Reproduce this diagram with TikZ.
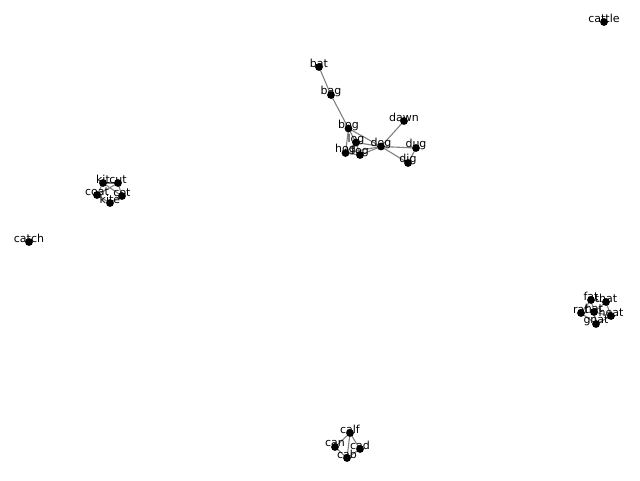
\documentclass[tikz,border=0pt]{standalone}
\usepackage{fontspec}
\setmainfont{DejaVu Sans}
\begin{document}
\begin{tikzpicture}[x=1pt,y=-1pt,
  edge/.style={draw=gray,line width=1.1pt},
  dot/.style={circle,fill=black,inner sep=0pt,minimum size=7.8pt},
  lbl/.style={inner sep=0pt,font=\fontsize{11}{12}\selectfont,text=black}]
\useasboundingbox (0,0) rectangle (640,480);
% positions
\coordinate (bat) at (319,67);
\coordinate (bag) at (331,95);
\coordinate (bog) at (348.5,128.5);
\coordinate (log) at (356,142.5);
\coordinate (hog) at (345.5,153);
\coordinate (fog) at (360,155);
\coordinate (dog) at (381,146.5);
\coordinate (dawn) at (404,121);
\coordinate (dug) at (416,148);
\coordinate (dig) at (408,163);
\coordinate (kit) at (103,183);
\coordinate (cut) at (118,183);
\coordinate (coat) at (97,195);
\coordinate (cot) at (122,196);
\coordinate (kite) at (110,203);
\coordinate (fat) at (591,300);
\coordinate (that) at (606,302);
\coordinate (rat) at (581,313);
\coordinate (hat) at (594,312);
\coordinate (heat) at (611,316);
\coordinate (gnat) at (596,324);
\coordinate (calf) at (350,433);
\coordinate (can) at (335,447);
\coordinate (cad) at (360,449);
\coordinate (cab) at (347,458);
\coordinate (cattle) at (604,22);
\coordinate (catch) at (29,242);
% edges
\draw[edge] (bat) -- (bag);
\draw[edge] (bag) -- (bog);
\draw[edge] (bog) -- (log);
\draw[edge] (bog) -- (dog);
\draw[edge] (bog) -- (hog);
\draw[edge] (log) -- (dog);
\draw[edge] (log) -- (hog);
\draw[edge] (log) -- (fog);
\draw[edge] (hog) -- (dog);
\draw[edge] (fog) -- (dog);
\draw[edge] (hog) -- (fog);
\draw[edge] (dog) -- (dawn);
\draw[edge] (dog) -- (dug);
\draw[edge] (dog) -- (dig);
\draw[edge] (dug) -- (dig);
\draw[edge] (kit) -- (cut);
\draw[edge] (kit) -- (coat);
\draw[edge] (kit) -- (cot);
\draw[edge] (cut) -- (coat);
\draw[edge] (cut) -- (cot);
\draw[edge] (coat) -- (kite);
\draw[edge] (cot) -- (kite);
\draw[edge] (fat) -- (that);
\draw[edge] (fat) -- (rat);
\draw[edge] (fat) -- (hat);
\draw[edge] (that) -- (hat);
\draw[edge] (that) -- (heat);
\draw[edge] (rat) -- (hat);
\draw[edge] (hat) -- (heat);
\draw[edge] (hat) -- (gnat);
\draw[edge] (rat) -- (gnat);
\draw[edge] (heat) -- (gnat);
\draw[edge] (calf) -- (can);
\draw[edge] (calf) -- (cad);
\draw[edge] (calf) -- (cab);
\draw[edge] (can) -- (cab);
\draw[edge] (cad) -- (cab);
% dots
\foreach \n in {bat,bag,bog,log,hog,fog,dog,dawn,dug,dig,kit,cut,coat,cot,kite,fat,that,rat,hat,heat,gnat,calf,can,cad,cab,cattle,catch}
  \node[dot] (d\n) at (\n) {};
% labels
\foreach \n in {bat,bag,bog,log,hog,fog,dog,dawn,dug,dig,kit,cut,coat,cot,kite,fat,that,rat,hat,heat,gnat,calf,can,cad,cab,cattle,catch}
  \node[lbl] (l\n) at ([yshift=3.5pt]d\n.center) {\n};
\end{tikzpicture}
\end{document}
